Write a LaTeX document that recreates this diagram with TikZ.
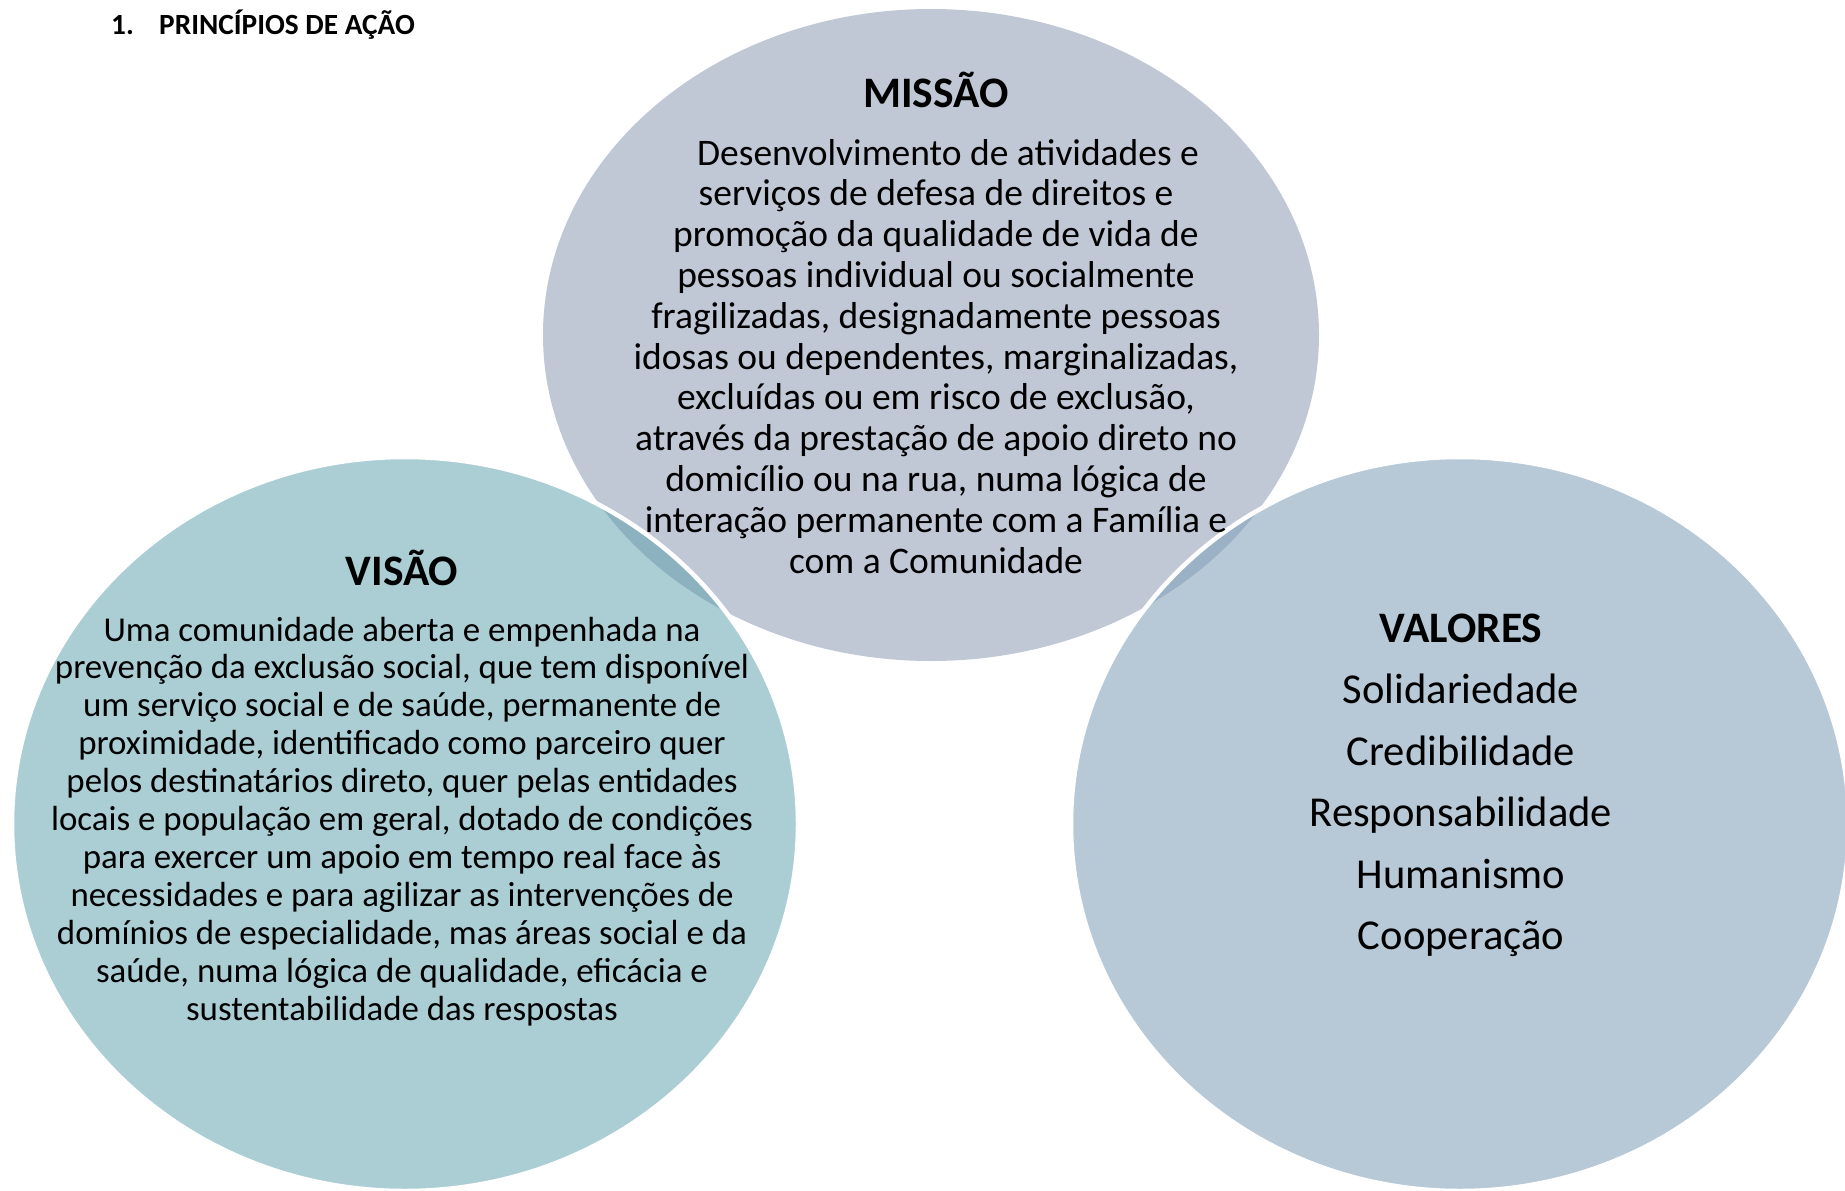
\documentclass[tikz,border=0pt]{standalone}
\usepackage{fontspec}
\setmainfont{Carlito}
\definecolor{missaoc}{RGB}{192,199,213}
\definecolor{visaoc}{RGB}{171,206,212}
\definecolor{valoresc}{RGB}{183,200,214}
\definecolor{lensvis}{RGB}{141,178,191}
\definecolor{lensval}{RGB}{155,178,198}
\tikzset{
  headtxt/.style={anchor=base west, inner sep=0pt, font=\fontsize{29.3}{32}\selectfont\bfseries},
  titletxt/.style={anchor=base, inner sep=0pt, font=\fontsize{43.5}{47}\selectfont\bfseries},
  mistxt/.style={anchor=base, inner sep=0pt, font=\fontsize{37.5}{40}\selectfont},
  vistxt/.style={anchor=base, inner sep=0pt, font=\fontsize{34.9}{38}\selectfont},
  valtxt/.style={anchor=base, inner sep=0pt, font=\fontsize{42.6}{46}\selectfont},
  rim/.style={draw=white, line width=4.5pt}
}
\begin{document}
\begin{tikzpicture}[x=1pt,y=-1pt]
\useasboundingbox (0,0) rectangle (1845,1191);
% circles
\fill[missaoc] (931,335) ellipse [x radius=388pt, y radius=326pt];
\fill[visaoc] (405,824) ellipse [x radius=393pt, y radius=367pt];
\fill[valoresc] (1460,824) ellipse [x radius=389pt, y radius=367pt];
\begin{scope}
  \clip (931,335) ellipse [x radius=388pt, y radius=326pt];
  \fill[lensvis] (405,824) ellipse [x radius=393pt, y radius=367pt];
  \fill[lensval] (1460,824) ellipse [x radius=389pt, y radius=367pt];
\end{scope}
\draw[rim] (405,824) ellipse [x radius=393pt, y radius=367pt];
\draw[rim] (1460,824) ellipse [x radius=389pt, y radius=367pt];
% heading
\node[headtxt] (hnum) at (111,34.5) {1.};
\node[headtxt] (htitle) at (159,34.5) {PRINCÍPIOS DE AÇÃO};
% Missão
\node[titletxt] (mtitle) at (936,107) {MISSÃO};
\node[mistxt] (mis1) at (948,165) {Desenvolvimento de atividades e};
\foreach \t [count=\i from 2] in {
  {serviços de defesa de direitos e},
  {promoção da qualidade de vida de},
  {pessoas individual ou socialmente},
  {fragilizadas, designadamente pessoas},
  {idosas ou dependentes, marginalizadas,},
  {excluídas ou em risco de exclusão,},
  {através da prestação de apoio direto no},
  {domicílio ou na rua, numa lógica de},
  {interação permanente com a Família e},
  {com a Comunidade}}
  \node[mistxt] (mis\i) at (936,{165+(\i-1)*40.8}) {\t};
% Visão
\node[titletxt] (vtitle) at (402,585) {VISÃO};
\foreach \t [count=\i] in {
  {Uma comunidade aberta e empenhada na},
  {prevenção da exclusão social, que tem disponível},
  {um serviço social e de saúde, permanente de},
  {proximidade, identificado como parceiro quer},
  {pelos destinatários direto, quer pelas entidades},
  {locais e população em geral, dotado de condições},
  {para exercer um apoio em tempo real face às},
  {necessidades e para agilizar as intervenções de},
  {domínios de especialidade, mas áreas social e da},
  {saúde, numa lógica de qualidade, eficácia e},
  {sustentabilidade das respostas}}
  \node[vistxt] (vis\i) at (402,{641+(\i-1)*37.9}) {\t};
% Valores
\node[titletxt] (ltitle) at (1461,642) {VALORES};
\foreach \t [count=\i] in {Solidariedade,Credibilidade,Responsabilidade,Humanismo,Cooperação}
  \node[valtxt] (val\i) at (1461,{642+\i*61.5}) {\t};
\end{tikzpicture}
\end{document}
